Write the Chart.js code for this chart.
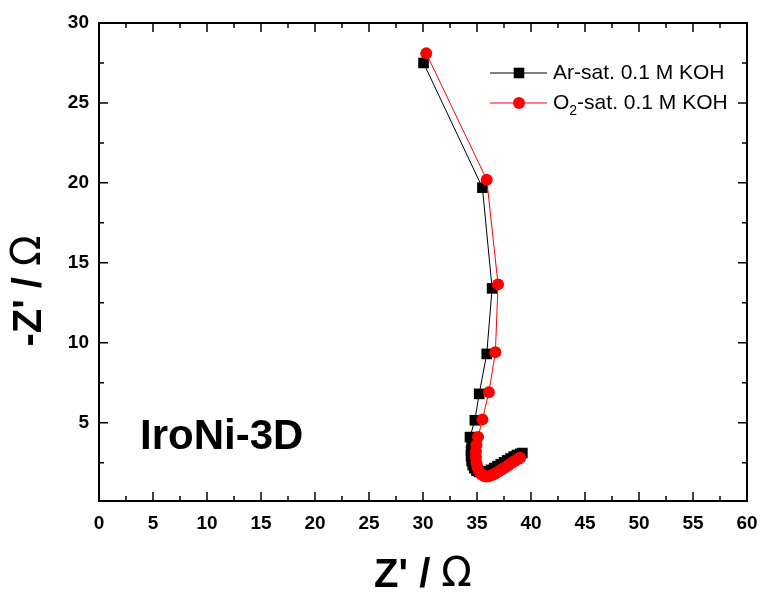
<!DOCTYPE html>
<html>
<head>
<meta charset="utf-8">
<script src="https://cdn.jsdelivr.net/npm/chart.js@4.4.0/dist/chart.umd.min.js"></script>
<style>
  html, body { margin: 0; padding: 0; background: #fff; }
</style>
</head>
<body>
<canvas id="eisChart" width="763" height="594"></canvas>
<script>
// Nyquist plot, Z' vs -Z'' (ohm)
const arZre = [30.05, 35.5, 36.4, 35.9, 35.2, 34.8, 34.35,
  34.5, 34.45, 34.45, 34.5, 34.6, 34.75, 34.95, 35.2, 35.45, 35.7, 36.0,
  36.3, 36.6, 36.9, 37.2, 37.5, 37.8, 38.1, 38.4, 38.7, 39.0, 39.2]
const arZim = [27.5, 19.7, 13.4, 9.3, 6.8, 5.15, 4.1,
  3.6, 3.25, 2.9, 2.6, 2.35, 2.15, 2.0, 1.92, 1.88, 1.9, 1.96,
  2.05, 2.16, 2.28, 2.4, 2.52, 2.64, 2.76, 2.88, 2.98, 3.05, 3.1]

const o2Zre = [30.3, 35.9, 36.95, 36.7, 36.1, 35.5, 35.1,
  34.95, 34.9, 34.9, 34.95, 35.05, 35.2, 35.4, 35.6, 35.85, 36.1, 36.4,
  36.7, 37.0, 37.3, 37.6, 37.9, 38.2, 38.5, 38.8, 39.0]
const o2Zim = [28.1, 20.2, 13.65, 9.4, 6.9, 5.2, 4.1,
  3.6, 3.2, 2.85, 2.5, 2.2, 1.95, 1.78, 1.68, 1.63, 1.65, 1.72,
  1.82, 1.94, 2.07, 2.2, 2.34, 2.47, 2.6, 2.72, 2.8]

const xTicks = [0, 5, 10, 15, 20, 25, 30, 35, 40, 45, 50, 55, 60]
const yTicks = [5, 10, 15, 20, 25, 30]

const seriesNames = ['Ar-sat. 0.1 M KOH', 'O2-sat. 0.1 M KOH']
const sampleName = 'IroNi-3D'

const toPoints = (xs, ys) => xs.map((x, i) => ({ x: x, y: ys[i] }))

function drawMarker(ctx, style, x, y, r, color) {
  ctx.fillStyle = color
  ctx.beginPath()
  if (style === 'rect') {
    const s = Math.SQRT1_2 * r
    ctx.rect(x - s, y - s, 2 * s, 2 * s)
  } else {
    ctx.arc(x, y, r, 0, Math.PI * 2)
  }
  ctx.fill()
}

// frame, inward ticks, axis titles, legend and sample label
const decorations = {
  id: 'decorations',
  afterDraw(chart) {
    const ctx = chart.ctx
    const area = chart.chartArea
    const xs = chart.scales.x
    const ys = chart.scales.y
    ctx.save()

    ctx.strokeStyle = '#000'
    ctx.lineWidth = 2
    ctx.strokeRect(area.left, area.top, area.right - area.left, area.bottom - area.top)

    ctx.lineWidth = 1.5
    const major = 9
    const minor = 5
    const xMinor = xTicks.slice(1).map((v, i) => (v + xTicks[i]) / 2)
    const yAll = [0].concat(yTicks)
    const yMinor = yAll.slice(1).map((v, i) => (v + yAll[i]) / 2)

    ctx.beginPath()
    xTicks.forEach(v => {
      const px = xs.getPixelForValue(v)
      ctx.moveTo(px, area.bottom); ctx.lineTo(px, area.bottom - major)
      ctx.moveTo(px, area.top); ctx.lineTo(px, area.top + major)
    })
    xMinor.forEach(v => {
      const px = xs.getPixelForValue(v)
      ctx.moveTo(px, area.bottom); ctx.lineTo(px, area.bottom - minor)
      ctx.moveTo(px, area.top); ctx.lineTo(px, area.top + minor)
    })
    yTicks.forEach(v => {
      const py = ys.getPixelForValue(v)
      ctx.moveTo(area.left, py); ctx.lineTo(area.left + major, py)
      ctx.moveTo(area.right, py); ctx.lineTo(area.right - major, py)
    })
    yMinor.forEach(v => {
      const py = ys.getPixelForValue(v)
      ctx.moveTo(area.left, py); ctx.lineTo(area.left + minor, py)
      ctx.moveTo(area.right, py); ctx.lineTo(area.right - minor, py)
    })
    ctx.stroke()

    // axis titles: bold letters, plain omega
    const bold = 'bold 40px "Liberation Sans", Arial, sans-serif'
    const plain = '40px "DejaVu Sans", "Liberation Sans", sans-serif'
    const drawTitle = (head, cx, cy) => {
      ctx.font = bold
      const w1 = ctx.measureText(head).width
      ctx.font = plain
      const w2 = ctx.measureText('\u03A9').width
      let x0 = cx - (w1 + w2) / 2
      ctx.textBaseline = 'middle'
      ctx.textAlign = 'left'
      ctx.font = bold
      ctx.fillText(head, x0, cy)
      ctx.font = plain
      ctx.fillText('\u03A9', x0 + w1, cy)
    }
    ctx.fillStyle = '#000'
    drawTitle("Z' / ", (area.left + area.right) / 2, 576)
    ctx.save()
    ctx.translate(30, 291)
    ctx.rotate(-Math.PI / 2)
    drawTitle("-Z' / ", 0, 0)
    ctx.restore()

    // sample label
    ctx.font = 'bold 42px "Liberation Sans", Arial, sans-serif'
    ctx.textAlign = 'left'
    ctx.textBaseline = 'middle'
    ctx.fillText(sampleName, 140, 437)

    // legend
    const lx = area.right - 257
    const rows = [area.top + 50, area.top + 80]
    chart.data.datasets.forEach((ds, i) => {
      const y = rows[i]
      ctx.strokeStyle = ds.borderColor
      ctx.lineWidth = 1
      ctx.beginPath()
      ctx.moveTo(lx, y); ctx.lineTo(lx + 57, y)
      ctx.stroke()
      drawMarker(ctx, ds.pointStyle, lx + 29, y, ds.pointRadius, ds.backgroundColor)
      ctx.fillStyle = '#000'
      ctx.font = '21px "Liberation Sans", Arial, sans-serif'
      ctx.textBaseline = 'middle'
      const tx = lx + 63
      if (i === 0) {
        ctx.fillText(seriesNames[0], tx, y)
      } else {
        ctx.fillText('O', tx, y)
        const wO = ctx.measureText('O').width
        ctx.font = '14px "Liberation Sans", Arial, sans-serif'
        ctx.fillText('2', tx + wO, y + 8)
        const w2 = ctx.measureText('2').width
        ctx.font = '21px "Liberation Sans", Arial, sans-serif'
        ctx.fillText(seriesNames[1].slice(2), tx + wO + w2, y)
      }
    })
    ctx.restore()
  }
}

const tickFont = { family: '"Liberation Sans", Arial, sans-serif', size: 19, weight: 'bold' }

const config = {
  type: 'scatter',
  data: {
    datasets: [{
      label: seriesNames[0],
      data: toPoints(arZre, arZim),
      showLine: true,
      borderColor: '#000000',
      backgroundColor: '#000000',
      borderWidth: 1,
      pointStyle: 'rect',
      pointRadius: 7.5,
      pointBorderWidth: 0,
      order: 2
    }, {
      label: seriesNames[1],
      data: toPoints(o2Zre, o2Zim),
      showLine: true,
      borderColor: '#ff0000',
      backgroundColor: '#ff0000',
      borderWidth: 1,
      pointStyle: 'circle',
      pointRadius: 6,
      pointBorderWidth: 0,
      order: 1
    }]
  },
  options: {
    responsive: false,
    animation: false,
    layout: { padding: { top: 23, right: 16, left: 0, bottom: 0 } },
    plugins: { legend: { display: false }, tooltip: { enabled: false } },
    scales: {
      x: {
        type: 'linear',
        min: 0,
        max: 60,
        grid: { display: false, drawTicks: false },
        border: { display: false },
        afterBuildTicks: scale => { scale.ticks = xTicks.map(v => ({ value: v })) },
        afterFit: scale => {
          scale.height = 93
          scale.paddingLeft = 0
          scale.paddingRight = 0
        },
        ticks: { color: '#000', font: tickFont, padding: 11, maxRotation: 0, autoSkip: false }
      },
      y: {
        type: 'linear',
        min: 0.1,
        max: 30,
        grid: { display: false, drawTicks: false },
        border: { display: false },
        afterBuildTicks: scale => { scale.ticks = yTicks.map(v => ({ value: v })) },
        afterFit: scale => {
          scale.width = 99
          scale.paddingTop = 0
          scale.paddingBottom = 0
        },
        ticks: { color: '#000', font: tickFont, padding: 10, autoSkip: false }
      }
    }
  },
  plugins: [decorations]
}

const eisChart = new Chart(document.getElementById('eisChart'), config)
</script>
</body>
</html>
